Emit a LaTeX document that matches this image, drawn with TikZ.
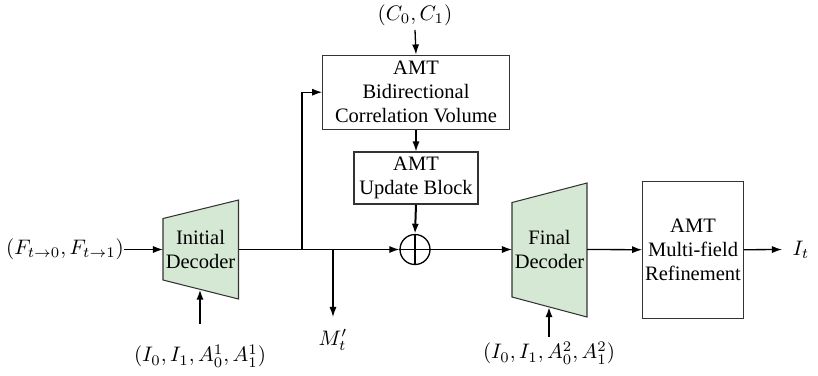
\documentclass[tikz,border=0pt]{standalone}
\usepackage{fontspec}
\setmainfont{Liberation Serif}
\usetikzlibrary{arrows.meta}
\definecolor{decgreen}{HTML}{D5E8D4}
\definecolor{edgegray}{HTML}{333333}
\def\pxu{0.4762}
\begin{document}
\begin{tikzpicture}[x=\pxu pt,y=-\pxu pt,
  font=\fontsize{9.76}{11.43}\selectfont,
  box/.style={draw=edgegray, line width=0.5pt, inner sep=0pt, align=center},
  dec/.style={draw=edgegray, line width=0.5pt, fill=decgreen},
  lbl/.style={inner sep=0pt},
  conn/.style={line width=0.62pt, -{Latex[length=4.8pt,width=3.4pt]}},
  thick conn/.style={line width=0.95pt, -{Latex[length=4.8pt,width=3.4pt]}},
  line/.style={line width=0.62pt}]
\useasboundingbox (0,0) rectangle (818,375);

% decoders
\draw[dec] (163,218.5) -- (238.5,200) -- (238.5,299) -- (163,280) -- cycle;
\draw[dec] (512,202.5) -- (587,183) -- (587,317) -- (512,297) -- cycle;
\node[lbl, align=center] (idec) at (200.5,249.5) {Initial\\Decoder};
\node[lbl, align=center] (fdec) at (549.5,249.5) {Final\\Decoder};
\coordinate (idecW) at (163,249.5);
\coordinate (idecE) at (238.5,249.5);
\coordinate (idecB) at (200,289.5);
\coordinate (fdecW) at (512,249.5);
\coordinate (fdecE) at (587,249.5);
\coordinate (fdecB) at (549,307);

% boxes
\node[box, minimum width={186.6*\pxu pt}, minimum height={74.3*\pxu pt}] (bcv) at (416,92.2) {AMT\\Bidirectional\\Correlation Volume};
\node[box, minimum width={124*\pxu pt}, minimum height={52*\pxu pt}] (upd) at (416,178) {AMT\\Update Block};
\node[box, minimum width={100.6*\pxu pt}, minimum height={137.3*\pxu pt}] (ref) at (693,249.7) {AMT\\Multi-field\\Refinement};
\node[draw=black, line width=0.62pt, circle, minimum size={30*\pxu pt}, inner sep=0pt] (op) at (415,249.5) {};
\draw[line width=0.62pt] (op.north) -- (op.south) (op.west) -- (op.east);

% labels
\node[lbl] (fin) at (65,249.5) {\fontsize{10}{12}\selectfont$(F_{t\rightarrow 0},F_{t\rightarrow 1})$};
\node[lbl] (cin) at (415,15) {\fontsize{10}{12}\selectfont$(C_0,C_1)$};
\node[lbl] (mout) at (333,340) {\fontsize{10}{12}\selectfont$M_t'$};
\node[lbl] (i1) at (200,356) {\fontsize{10}{12}\selectfont$(I_0,I_1,A_0^1,A_1^1)$};
\node[lbl] (i2) at (549,353) {\fontsize{10}{12}\selectfont$(I_0,I_1,A_0^2,A_1^2)$};
\node[lbl] (itout) at (801,249.5) {\fontsize{10}{12}\selectfont$I_t$};

\coordinate (i1s) at (200,324);
\coordinate (i2s) at (549,337);
\coordinate (br) at (302,249.5);
\coordinate (brtop) at (302,92.2);
\coordinate (mb) at (333,249.5);
\coordinate (mend) at (333,317);
\coordinate (cs) at (415,30);
\coordinate (itend) at (782,249.5);

% connectors
\draw[conn] (fin.east) -- (idecW);
\draw[thick conn] (i1s) -- (idecB);
\draw[line] (idecE) -- (br);
\draw[conn] (br) -- (op.west);
\draw[conn] (br) -- (brtop) -- (bcv.west);
\draw[conn] (mb) -- (mend);
\draw[conn] (cs) -- (bcv.north);
\draw[conn] (bcv.south) -- (upd.north);
\draw[thick conn] (upd.south) -- (op.north);
\draw[conn] (op.east) -- (fdecW);
\draw[thick conn] (i2s) -- (fdecB);
\draw[conn] (fdecE) -- (ref.west);
\draw[conn] (ref.east) -- (itend);
\end{tikzpicture}
\end{document}
